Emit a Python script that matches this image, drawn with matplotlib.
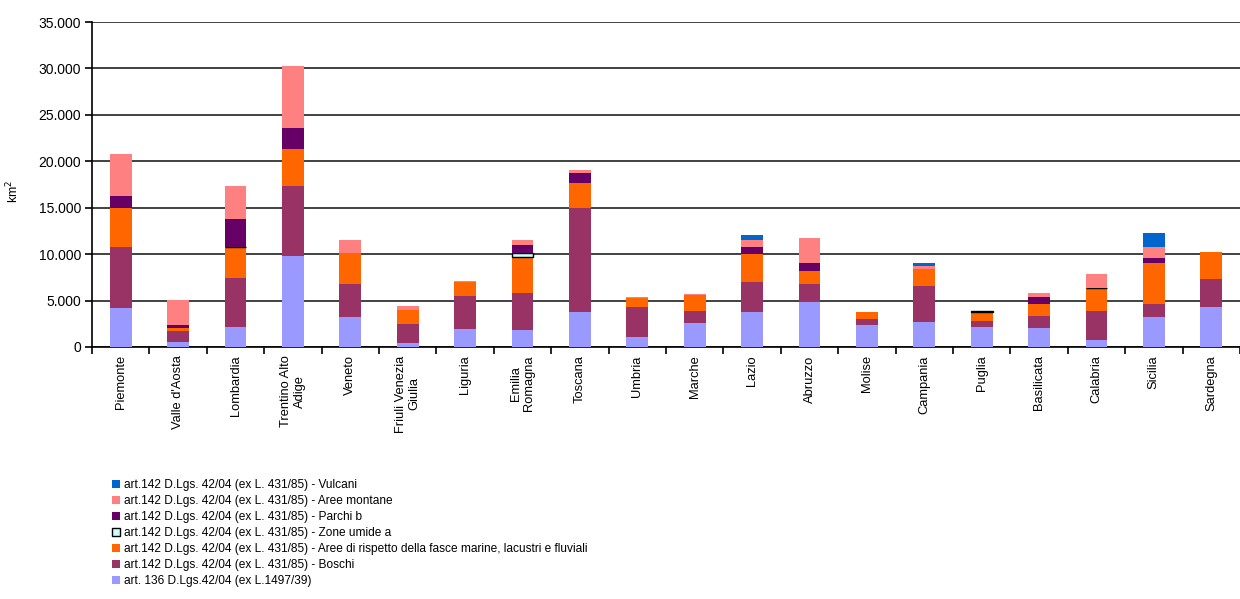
import numpy as np
import matplotlib
matplotlib.use("Agg")
import matplotlib.pyplot as plt
from matplotlib.ticker import FuncFormatter, FixedLocator

plt.rcParams['font.family'] = ['Liberation Sans', 'DejaVu Sans']

regions = ["Piemonte", "Valle d'Aosta", "Lombardia", "Trentino Alto\nAdige", "Veneto",
           "Friuli Venezia\nGiulia", "Liguria", "Emilia\nRomagna", "Toscana", "Umbria",
           "Marche", "Lazio", "Abruzzo", "Molise", "Campania", "Puglia", "Basilicata",
           "Calabria", "Sicilia", "Sardegna"]

# km2 per category, stacked bottom -> top
art136 = [4240, 540, 2120, 9800, 3190, 400, 1970, 1830, 3730, 1040,
          2550, 3730, 4810, 2330, 2690, 2190, 2010, 750, 3190, 4270]
boschi = [6530, 1220, 5280, 7540, 3560, 2080, 3520, 4020, 11270, 3230,
          1360, 3300, 1940, 650, 3880, 640, 1330, 3160, 1440, 3020]
fasce = [4240, 300, 3330, 3950, 3340, 1500, 1540, 3810, 2690, 1040,
         1690, 2990, 1430, 750, 1790, 900, 1290, 2410, 4450, 2910]
zone_umide = [0, 0, 80, 0, 0, 0, 0, 430, 0, 0,
              0, 0, 0, 0, 0, 150, 0, 80, 0, 0]
parchi = [1250, 270, 3010, 2260, 0, 0, 0, 890, 1080, 0,
          0, 780, 900, 0, 0, 0, 720, 0, 540, 0]
montane = [4570, 2690, 3550, 6750, 1430, 440, 80, 540, 290, 100,
           100, 720, 2620, 80, 360, 0, 500, 1510, 1180, 60]
vulcani = [0, 0, 0, 0, 0, 0, 0, 0, 0, 0,
           0, 510, 0, 0, 330, 0, 0, 0, 1440, 0]

pre = "art.142 D.Lgs. 42/04 (ex L. 431/85) - "
series = [
    (art136, "art. 136 D.Lgs.42/04 (ex L.1497/39)", "#9999ff"),
    (boschi, pre + "Boschi", "#993366"),
    (fasce, pre + "Aree di rispetto della fasce marine, lacustri e fluviali", "#ff6600"),
    (zone_umide, pre + "Zone umide a", "#ccffff"),
    (parchi, pre + "Parchi b", "#660066"),
    (montane, pre + "Aree montane", "#ff8080"),
    (vulcani, pre + "Vulcani", "#0066cc"),
]

fig = plt.figure(figsize=(12.4, 5.99), dpi=100)
ax = fig.add_axes([92 / 1240, 1 - 347 / 599, 1148 / 1240, 325 / 599])

x = np.arange(len(regions))
width = 0.38
bottom = np.zeros(len(regions))
handles = []
for vals, label, color in series:
    v = np.array(vals, dtype=float)
    nz = v > 0
    if label.endswith("Zone umide a"):
        h = ax.bar(x[nz], v[nz], width, bottom=bottom[nz], color=color,
                   edgecolor="black", linewidth=1.0, label=label, zorder=3)
    else:
        h = ax.bar(x[nz], v[nz], width, bottom=bottom[nz], color=color,
                   linewidth=0, label=label, zorder=3)
    handles.append(h)
    bottom += v

ax.set_xlim(-0.5, 19.47)
ax.set_ylim(0, 35000)
ax.yaxis.set_major_locator(FixedLocator(np.arange(0, 35001, 5000)))
ax.yaxis.set_major_formatter(FuncFormatter(lambda v, p: f"{int(v):,}".replace(",", ".")))
ax.grid(axis="y", color="#333333", linewidth=1.3, zorder=0)
ax.set_axisbelow(True)

ax.set_xticks(x)
ax.set_xticklabels(regions, rotation=90, fontsize=9.3, va="top", ha="center",
                   multialignment="center")
ax.tick_params(axis="x", length=0, pad=6)
ax.set_xticks(np.arange(-0.5, 20, 1), minor=True)
ax.tick_params(axis="x", which="minor", length=5, width=1.2, direction="out")
ax.tick_params(axis="y", length=5, width=1.2, labelsize=10, pad=3)

for s in ["top", "right"]:
    ax.spines[s].set_visible(False)
ax.spines["left"].set_linewidth(1.2)
ax.spines["bottom"].set_linewidth(1.2)

ax.set_ylabel("km$^2$", fontsize=9, labelpad=-2)
ax.yaxis.set_label_coords(-0.062, 0.48)

leg = fig.legend(handles[::-1], [h.get_label() for h in handles[::-1]],
                 loc="upper left", bbox_to_anchor=(107 / 1240, 1 - 474 / 599),
                 frameon=False, fontsize=8.6, handlelength=0.65, handleheight=0.65,
                 handletextpad=0.4, labelspacing=0.34, borderaxespad=0)

fig.savefig("out.png", dpi=100)
